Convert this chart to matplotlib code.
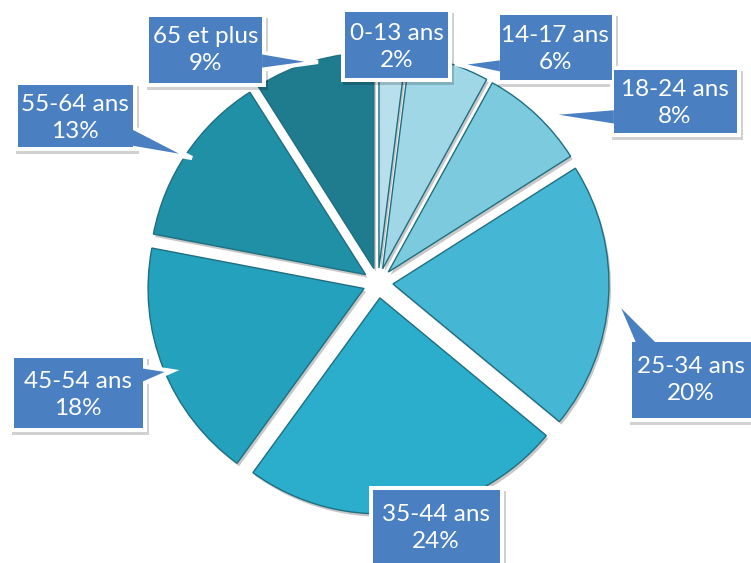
import matplotlib.pyplot as plt
from matplotlib.patches import Rectangle, Polygon, Wedge

# data
labels = ['0-13 ans', '14-17 ans', '18-24 ans', '25-34 ans',
          '35-44 ans', '45-54 ans', '55-64 ans', '65 et plus']
values = [2, 6, 8, 20, 24, 18, 13, 9]
colors = ['#b8e0ec', '#a0d7e7', '#7ccade', '#45b7d5',
          '#2badcc', '#24a1bd', '#2090a7', '#1f7b8e']

W, H = 751, 563
BLUE = '#4a80c1'

fig = plt.figure(figsize=(7.51, 5.63), dpi=100)
ax = fig.add_axes([0, 0, 1, 1])

cx, cy = 378, H - 283
R = 216

wedges, _ = ax.pie(values, startangle=90, counterclock=False,
                   center=(cx, cy), radius=R, explode=[15] * len(values),
                   colors=colors,
                   wedgeprops=dict(edgecolor='#1f6f80', linewidth=1.0))
for w in wedges:
    w.set_zorder(2)
    # small drop shadow under each slice
    (wx, wy) = w.center
    ax.add_patch(Wedge((wx + 2, wy - 3), w.r, w.theta1, w.theta2,
                       facecolor='#000000', alpha=0.22, lw=0, zorder=1))

# callout boxes (pixel coords, y downward): x0, y0, x1, y1, pointer polygon
boxes = [
    (345, 12, 448, 78, None),
    (500, 15, 612, 80, [(502, 58), (455, 64), (502, 74)]),
    (614, 70, 737, 133, [(616, 108), (541, 114), (616, 126)]),
    (632, 342, 760, 418, [(636, 348), (615, 299), (660, 344)]),
    (373, 490, 500, 575, None),
    (14, 358, 143, 428, [(140, 366), (172, 371), (140, 385)]),
    (18, 85, 133, 147, [(130, 126), (192, 158), (116, 145)]),
    (149, 17, 262, 83, [(260, 52), (318, 62), (260, 70)]),
]
text_pos = [(397, 47), (555, 49), (675, 103), (691, 380),
            (436, 528), (78, 395), (75, 118), (206, 50)]

for lab, val, (x0, y0, x1, y1, ptr), (tx, ty) in zip(labels, values, boxes, text_pos):
    # shadow
    ax.add_patch(Rectangle((x0 - 2, H - y1 - 7), x1 - x0 + 8, y1 - y0 + 6,
                           facecolor='#000000', alpha=0.18, lw=0, zorder=3))
    ax.add_patch(Rectangle((x0 - 4, H - y1 - 4), x1 - x0 + 8, y1 - y0 + 8,
                           facecolor='white', lw=0, zorder=4))
    if ptr:
        pts = [(px, H - py) for px, py in ptr]
        ax.add_patch(Polygon(pts, closed=True, facecolor=BLUE,
                             edgecolor='white', lw=3, joinstyle='miter', zorder=4.5))
    ax.add_patch(Rectangle((x0, H - y1), x1 - x0, y1 - y0,
                           facecolor=BLUE, lw=0, zorder=5))
    ax.text(tx, H - ty, f'{lab}\n{val}%', ha='center', va='center',
            color='white', fontsize=17.5, family='Lato', linespacing=1.4,
            zorder=6)

ax.set_xlim(0, W)
ax.set_ylim(0, H)
ax.set_aspect('auto')
ax.axis('off')

fig.savefig('out.png', dpi=100)
